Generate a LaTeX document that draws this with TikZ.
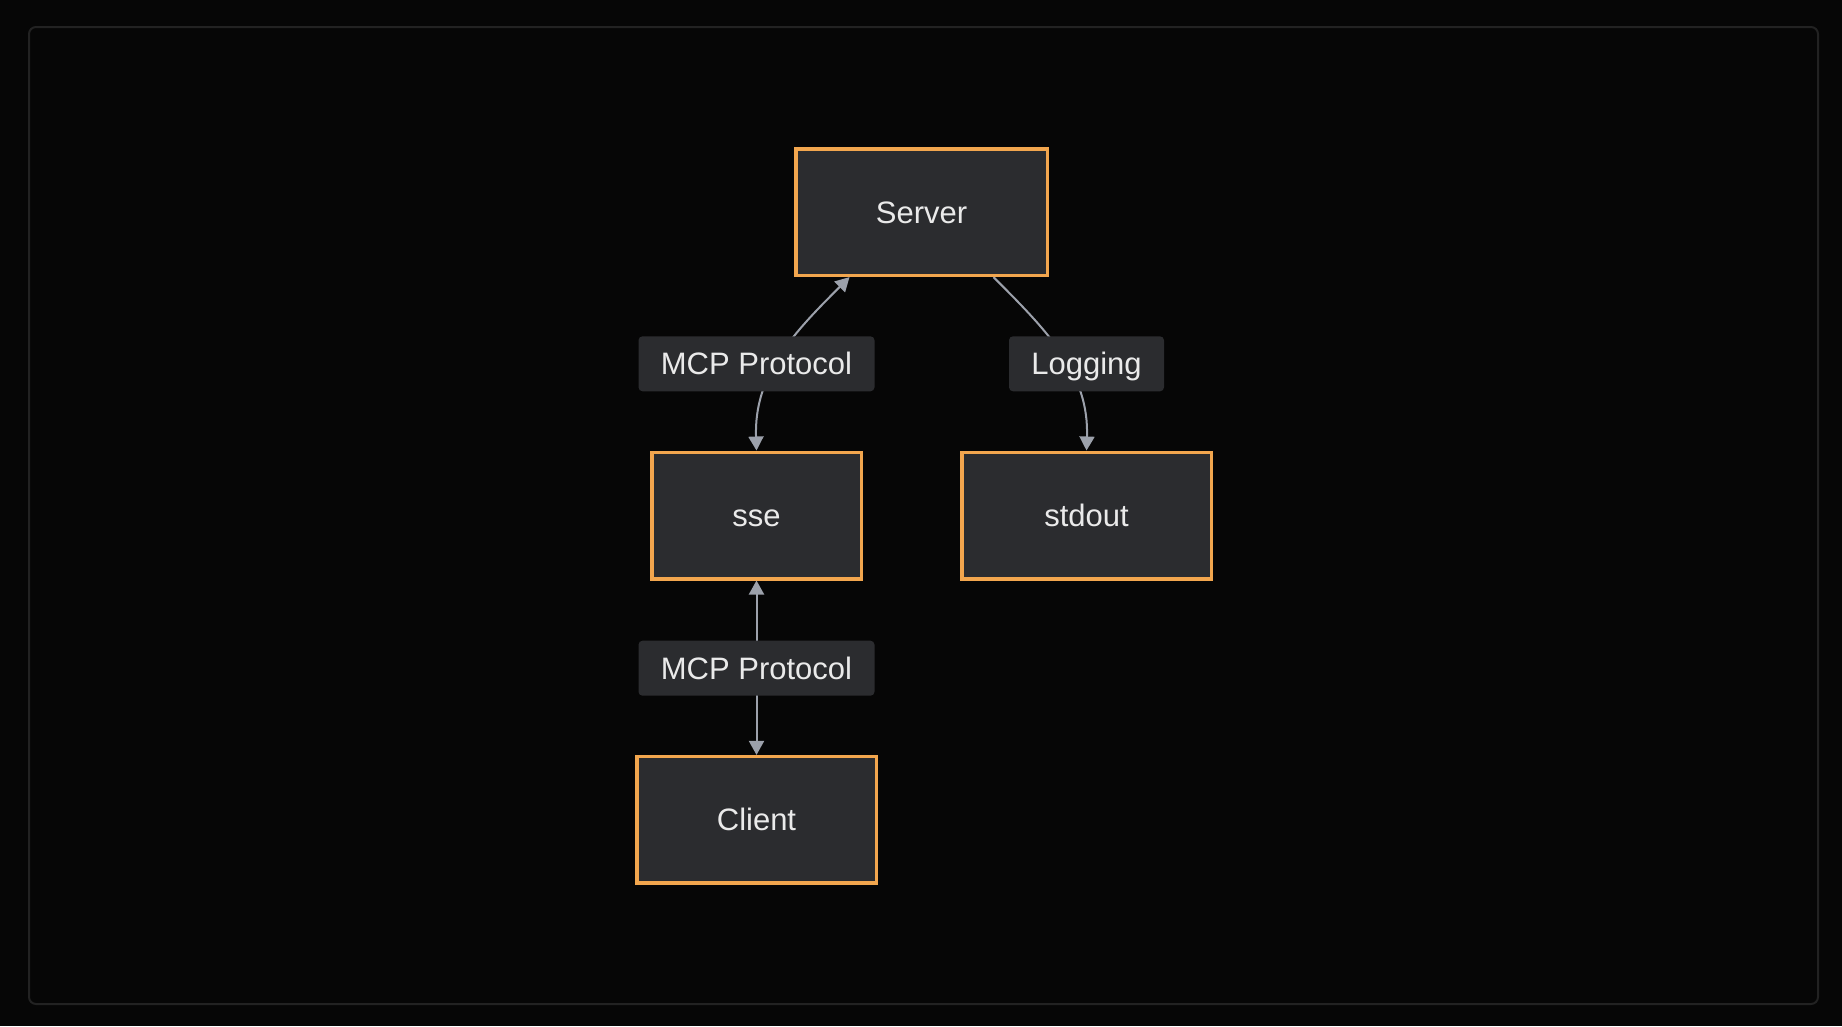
\documentclass[tikz,border=0pt]{standalone}
\usepackage{fontspec}
\setmainfont{Liberation Sans}
\usetikzlibrary{arrows.meta, positioning, calc, backgrounds}

\definecolor{bgdark}{HTML}{060606}
\definecolor{framegray}{HTML}{222222}
\definecolor{boxfill}{HTML}{2B2C2F}
\definecolor{boxedge}{HTML}{F2A64E}
\definecolor{edgegray}{HTML}{9CA1AB}
\definecolor{txtwhite}{HTML}{EAEAEA}

\begin{document}
\begin{tikzpicture}[x=1pt, y=1pt,
			box/.style={draw=boxedge, line width=3.5pt, fill=boxfill, text=txtwhite,
				minimum height=126.5pt, inner sep=0pt, text height=22pt, text depth=0pt,
				font=\fontsize{31}{36}\selectfont},
			lbl/.style={fill=boxfill, rounded corners=4pt, text=txtwhite,
				minimum height=55pt, inner sep=0pt, text height=22pt, text depth=0pt,
				font=\fontsize{31}{36}\selectfont},
			conn/.style={draw=edgegray, line width=2pt, -{Triangle[length=14pt, width=15pt]}},
			biconn/.style={conn, {Triangle[length=14pt, width=15pt]}-{Triangle[length=14pt, width=15pt]}}
			]
			\node[box, minimum width=209.5pt] (sse) at (756.5,-515.5) {sse};
			\node[box, minimum width=249.5pt, right=97pt of sse] (stdout) {stdout};
			\node[lbl, minimum width=236pt, above=59pt of sse] (proto) {MCP Protocol};
			\node[lbl, minimum width=155pt, above=59pt of stdout] (logging) {Logging};
			\node[box, minimum width=251.5pt, anchor=south] (server)
				at ($(proto.north)!.5!(logging.north)+(0,59pt)$) {Server};
			\node[lbl, minimum width=236pt, below=60pt of sse] (proto2) {MCP Protocol};
			\node[box, minimum width=239.5pt, below=59pt of proto2] (client) {Client};
			
			\begin{pgfonlayer}{background}
				\fill[bgdark] (0,0) rectangle (1842,-1026);
				\draw[framegray, line width=2pt, rounded corners=7pt] (29,-27) rectangle (1818,-1004);
				\draw[biconn] ([xshift=-72pt]server.south) to[out=-135, in=92] (sse.north);
				\draw[conn]   ([xshift=72pt]server.south)  to[out=-45, in=88]  (stdout.north);
				\draw[biconn] (sse) -- (client);
			\end{pgfonlayer}
			\useasboundingbox (0,0) rectangle (1842,-1026);
	\end{tikzpicture}
\end{document}
